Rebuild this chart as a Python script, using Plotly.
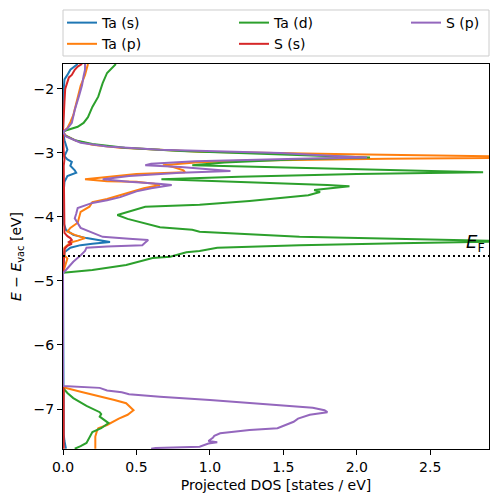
import plotly.graph_objects as go

# ---------------- data (energy E - E_vac [eV], projected DOS [states/eV]) ----------------
E_ta_s = [-1.61, -1.66, -1.70, -1.78, -1.85, -2.00, -2.60, -2.67, -2.80, -2.95, -3.05, -3.10,
          -3.14, -3.20, -3.27, -3.31, -3.36, -3.45, -3.60, -4.10, -4.20, -4.28, -4.33, -4.37,
          -4.39, -4.42, -4.44, -4.48, -4.55, -4.88, -6.70, -7.40, -7.50, -7.62]
dos_ta_s = [0.10, 0.07, 0.05, 0.03, 0.01, 0.005, 0.005, 0.0, 0.01, 0.03, 0.01, 0.03,
            0.06, 0.05, 0.08, 0.09, 0.03, 0.01, 0.005, 0.005, 0.02, 0.07, 0.16, 0.25,
            0.32, 0.20, 0.12, 0.05, 0.01, 0.0, 0.0, 0.005, 0.01, 0.02]

E_ta_p = [-1.61, -1.70, -1.78, -1.95, -2.13, -2.30, -2.41, -2.52, -2.61, -2.67, -2.73, -2.81,
          -2.87, -2.92, -2.98, -3.02, -3.04, -3.06, -3.08, -3.09, -3.12, -3.15, -3.19, -3.22,
          -3.27, -3.30, -3.33, -3.37, -3.41, -3.44, -3.45, -3.48, -3.50, -3.55, -3.63, -3.66,
          -3.72, -3.77, -3.84, -3.92, -4.00, -4.09, -4.17, -4.23, -4.28, -4.33, -4.37, -4.40,
          -4.48, -4.60, -4.65, -4.80, -4.87, -6.64, -6.66, -6.73, -6.80, -6.86, -6.91, -6.97,
          -7.02, -7.09, -7.15, -7.25, -7.30, -7.35, -7.43, -7.50, -7.60, -7.62]
dos_ta_p = [0.17, 0.16, 0.15, 0.12, 0.10, 0.08, 0.07, 0.05, 0.03, 0.0, 0.02, 0.09,
            0.20, 0.39, 0.93, 1.95, 2.70, 3.10, 2.90, 2.20, 1.20, 0.90, 0.68, 0.75,
            0.82, 0.83, 0.50, 0.30, 0.15, 0.30, 0.50, 0.62, 0.66, 0.55, 0.43, 0.40,
            0.30, 0.20, 0.18, 0.12, 0.11, 0.10, 0.05, 0.03, 0.08, 0.15, 0.10, 0.05,
            0.01, 0.01, 0.03, 0.01, 0.0, 0.0, 0.0, 0.12, 0.25, 0.35, 0.43, 0.46,
            0.48, 0.44, 0.38, 0.30, 0.24, 0.23, 0.22, 0.22, 0.22, 0.22]

E_ta_d = [-1.61, -1.75, -1.91, -2.12, -2.28, -2.44, -2.53, -2.59, -2.64, -2.67, -2.72, -2.80,
          -2.86, -2.92, -2.97, -3.01, -3.04, -3.07, -3.10, -3.15, -3.19, -3.23, -3.27, -3.30,
          -3.33, -3.37, -3.41, -3.45, -3.50, -3.52, -3.58, -3.61, -3.66, -3.75, -3.81, -3.84,
          -3.97, -4.03, -4.16, -4.20, -4.23, -4.31, -4.36, -4.38, -4.41, -4.44, -4.48, -4.53,
          -4.55, -4.62, -4.64, -4.75, -4.83, -4.87, -6.65, -6.67, -6.75, -6.83, -6.95, -7.05,
          -7.08, -7.12, -7.22, -7.30, -7.36, -7.45, -7.53, -7.58, -7.62]
dos_ta_d = [0.36, 0.30, 0.27, 0.24, 0.20, 0.17, 0.14, 0.10, 0.03, 0.0, 0.01, 0.08,
            0.20, 0.42, 0.80, 1.30, 1.80, 2.09, 1.60, 1.10, 0.88, 1.60, 2.40, 2.86,
            2.00, 1.20, 0.67, 1.20, 1.80, 1.95, 1.71, 1.75, 1.67, 1.27, 0.93, 0.56,
            0.37, 0.44, 0.66, 0.88, 0.93, 1.61, 2.90, 3.05, 2.29, 1.61, 1.05, 0.93,
            0.84, 0.73, 0.61, 0.43, 0.20, 0.0, 0.0, 0.0, 0.03, 0.07, 0.16, 0.25,
            0.26, 0.25, 0.31, 0.26, 0.20, 0.18, 0.16, 0.12, 0.08]

E_s_s = [-1.61, -1.65, -1.70, -1.78, -1.82, -1.89, -2.00, -2.20, -2.40, -2.67, -3.00, -3.10,
         -3.20, -4.25, -4.30, -4.33, -4.36, -4.39, -4.42, -4.45, -4.50, -4.88, -6.65, -6.70,
         -7.62]
dos_s_s = [0.13, 0.10, 0.08, 0.06, 0.04, 0.03, 0.015, 0.01, 0.005, 0.0, 0.005, 0.01,
           0.005, 0.01, 0.03, 0.05, 0.06, 0.04, 0.06, 0.03, 0.01, 0.0, 0.0, 0.005,
           0.005]

E_s_p = [-1.61, -1.70, -1.80, -1.94, -2.10, -2.33, -2.53, -2.62, -2.67, -2.74, -2.84, -2.90,
         -2.95, -3.00, -3.05, -3.07, -3.09, -3.13, -3.17, -3.19, -3.22, -3.26, -3.28, -3.31,
         -3.36, -3.41, -3.45, -3.48, -3.50, -3.55, -3.60, -3.69, -3.74, -3.78, -3.86, -3.95,
         -4.02, -4.17, -4.25, -4.31, -4.34, -4.36, -4.40, -4.44, -4.46, -4.48, -4.53, -4.60,
         -4.70, -4.80, -4.88, -6.64, -6.655, -6.67, -6.71, -6.74, -6.77, -6.81, -6.86, -6.94,
         -6.98, -7.02, -7.05, -7.09, -7.15, -7.20, -7.30, -7.33, -7.38, -7.42, -7.45, -7.50,
         -7.52, -7.54, -7.59, -7.61, -7.62]
dos_s_p = [0.15, 0.15, 0.14, 0.13, 0.11, 0.08, 0.06, 0.03, 0.0, 0.02, 0.12, 0.30,
           0.66, 1.48, 1.88, 2.07, 1.60, 0.90, 0.60, 0.56, 0.80, 1.05, 1.14, 0.80,
           0.45, 0.27, 0.45, 0.65, 0.74, 0.60, 0.50, 0.39, 0.30, 0.20, 0.10, 0.09,
           0.08, 0.12, 0.20, 0.27, 0.45, 0.58, 0.56, 0.54, 0.30, 0.16, 0.15, 0.12,
           0.07, 0.03, 0.0, 0.0, 0.20, 0.25, 0.30, 0.40, 0.45, 0.66, 1.00, 1.46,
           1.70, 1.78, 1.80, 1.68, 1.60, 1.57, 1.46, 1.27, 1.07, 1.03, 1.02, 0.99,
           1.05, 0.99, 0.93, 0.63, 0.60]

E_FERMI = -4.61
X_RANGE = [0.0, 2.9]
Y_RANGE = [-7.625, -1.61]
x_ticks = [0.0, 0.5, 1.0, 1.5, 2.0, 2.5]
y_ticks = [-2, -3, -4, -5, -6, -7]

series = [
    ("Ta (s)", E_ta_s, dos_ta_s, "#1f77b4", "legend"),
    ("Ta (p)", E_ta_p, dos_ta_p, "#ff7f0e", "legend"),
    ("Ta (d)", E_ta_d, dos_ta_d, "#2ca02c", "legend2"),
    ("S (s)", E_s_s, dos_s_s, "#d62728", "legend2"),
    ("S (p)", E_s_p, dos_s_p, "#9467bd", "legend3"),
]

FONT = "DejaVu Sans"
fig = go.Figure()
for i, (name, E, d, col, lg) in enumerate(series):
    fig.add_trace(go.Scatter(x=d, y=E, mode="lines", name=name,
                             line=dict(color=col, width=2), legend=lg,
                             legendgroup=name))

fig.add_shape(type="line", xref="x", yref="y", x0=X_RANGE[0], x1=X_RANGE[1],
              y0=E_FERMI, y1=E_FERMI, line=dict(color="black", width=2, dash="2px,3px"))
fig.add_annotation(x=X_RANGE[1], y=E_FERMI, xref="x", yref="y",
                   text="<i>E</i><sub>F</sub>", showarrow=False,
                   xanchor="right", yanchor="bottom", yshift=-1, xshift=-2,
                   font=dict(family=FONT, size=18, color="black"))

# legend frame
fig.add_shape(type="rect", xref="paper", yref="paper", x0=0, x1=1, y0=1.0208, y1=1.1403,
              line=dict(color="#cccccc", width=1), fillcolor="rgba(255,255,255,0.8)", layer="below")

leg_common = dict(orientation="v", yanchor="top", xanchor="left", bgcolor="rgba(0,0,0,0)",
                  borderwidth=0, font=dict(family=FONT, size=14, color="black"),
                  tracegroupgap=0)
axis_common = dict(showline=True, linecolor="black", linewidth=1.1, mirror=True,
                   ticks="outside", ticklen=5, tickwidth=1.1, tickcolor="black",
                   showgrid=False, zeroline=False, automargin=False,
                   tickfont=dict(family=FONT, size=14, color="black"))

fig.update_layout(
    width=498, height=502,
    margin=dict(l=63, r=9, t=64, b=53, autoexpand=False),
    plot_bgcolor="white", paper_bgcolor="white",
    font=dict(family=FONT, size=14, color="black"),
    legend=dict(x=-0.0023, y=1.148, **leg_common),
    legend2=dict(x=0.4014, y=1.148, **leg_common),
    legend3=dict(x=0.8052, y=1.148, **leg_common),
    xaxis=dict(range=X_RANGE, tickvals=x_ticks, ticktext=[f"{v:.1f}" for v in x_ticks],
               title=dict(text="Projected DOS [states / eV]", standoff=6,
                          font=dict(family=FONT, size=14)), **axis_common),
    yaxis=dict(range=Y_RANGE, tickvals=y_ticks, ticktext=[f"\u2212{abs(v)}" for v in y_ticks],
               title=dict(text="<i>E</i> \u2212 <i>E</i><sub>vac</sub> [eV]", standoff=8,
                          font=dict(family=FONT, size=14)), **axis_common),
)

fig.write_html("out.html", config={"displayModeBar": False},
               post_script="document.body.style.margin='0';document.body.style.overflow='hidden';")
